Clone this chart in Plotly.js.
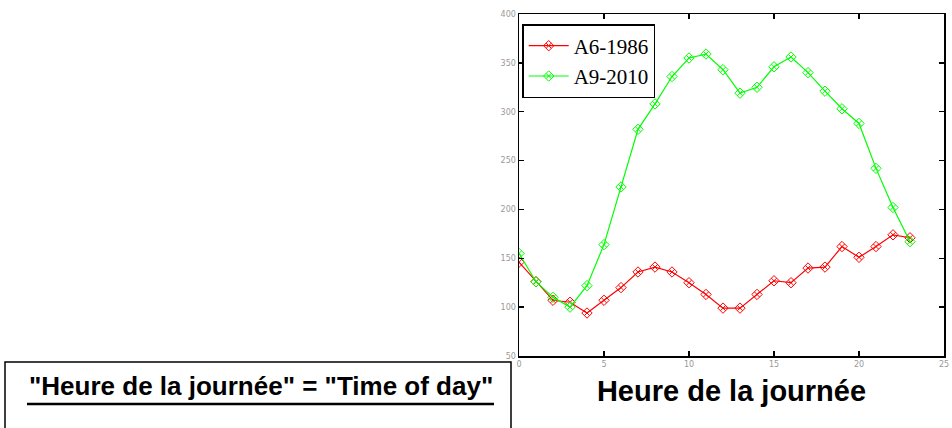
<!DOCTYPE html>
<html>
<head>
<meta charset="utf-8">
<script src="https://cdn.plot.ly/plotly-3.0.1.min.js"></script>
<style>html,body{margin:0;padding:0;background:#fff;}#chart{width:952px;height:428px;}</style>
</head>
<body>
<div id="chart"></div>
<script>
const hours = [0,1,2,3,4,5,6,7,8,9,10,11,12,13,14,15,16,17,18,19,20,21,22,23];
const a6_1986 = [146,126,107,105,94,107,120,136,141,136,125,113,99,99,113,127,125,140,141,162,151,162,174,171];
const a9_2010 = [155,126,110,100,122,164,223,282,308,336,355,359,343,319,325,346,356,340,321,303,288,242,202,167];
const seriesNames = ["A6-1986","A9-2010"];
const xTicks = [0,5,10,15,20,25];
const yTicks = [50,100,150,200,250,300,350,400];
const xTitle = "Heure de la journée";
const noteText = '"Heure de la journée" = "Time of day"';

const traces = [
  {x: hours, y: a6_1986, name: seriesNames[0], type: 'scatter', mode: 'lines+markers',
   line: {color: '#ff0000', width: 1.2},
   marker: {symbol: 'diamond-x-open', size: 8, color: '#ff0000', line: {width: 1}}},
  {x: hours, y: a9_2010, name: seriesNames[1], type: 'scatter', mode: 'lines+markers',
   line: {color: '#00ff00', width: 1.2},
   marker: {symbol: 'diamond-x-open', size: 8, color: '#00ff00', line: {width: 1}}}
];

const layout = {
  width: 952, height: 428,
  margin: {l: 519, r: 8, t: 14, b: 72},
  paper_bgcolor: '#fff', plot_bgcolor: '#fff',
  showlegend: true,
  legend: {x: 0.008, y: 0.97, xanchor: 'left', yanchor: 'top',
    bordercolor: '#000', borderwidth: 1.3, bgcolor: '#fff',
    font: {family: 'Liberation Serif', size: 21, color: '#000'},
    tracegroupgap: 0, itemwidth: 40},
  xaxis: {range: [0, 25], tickvals: xTicks, ticktext: xTicks.map(String),
    showgrid: false, zeroline: false, showline: true, linecolor: '#000', linewidth: 1.5,
    mirror: 'ticks', ticks: 'inside', ticklen: 5, tickcolor: '#000', tickwidth: 1.5,
    tickfont: {family: 'DejaVu Sans', size: 8, color: '#999'},
    title: {text: '<b>' + xTitle + '</b>', font: {family: 'Liberation Sans', size: 29, color: '#000'}, standoff: 12}},
  yaxis: {range: [50, 400], tickvals: yTicks, ticktext: yTicks.map(String),
    showgrid: false, zeroline: false, showline: true, linecolor: '#000', linewidth: 1.5,
    mirror: 'ticks', ticks: 'inside', ticklen: 5, tickcolor: '#000', tickwidth: 1.5,
    tickfont: {family: 'DejaVu Sans', size: 8, color: '#999'}},
  shapes: [
    {type: 'rect', xref: 'paper', yref: 'paper',
     x0: (5 - 519) / 425, x1: (511 - 519) / 425,
     y0: (356 - 440) / 342, y1: (356 - 362) / 342,
     line: {color: '#000', width: 1.5}, fillcolor: 'rgba(0,0,0,0)'},
    {type: 'line', xref: 'paper', yref: 'paper',
     x0: (27 - 519) / 425, x1: (494 - 519) / 425,
     y0: (356 - 404) / 342, y1: (356 - 404) / 342,
     line: {color: '#000', width: 2.5}}
  ],
  annotations: [
    {xref: 'paper', yref: 'paper', x: (261 - 519) / 425, y: (356 - 386) / 342,
     xanchor: 'center', yanchor: 'middle', showarrow: false,
     text: '<b>' + noteText + '</b>',
     font: {family: 'Liberation Sans', size: 26, color: '#000'}}
  ]
};

Plotly.newPlot('chart', traces, layout, {displayModeBar: false, staticPlot: true});
</script>
</body>
</html>
